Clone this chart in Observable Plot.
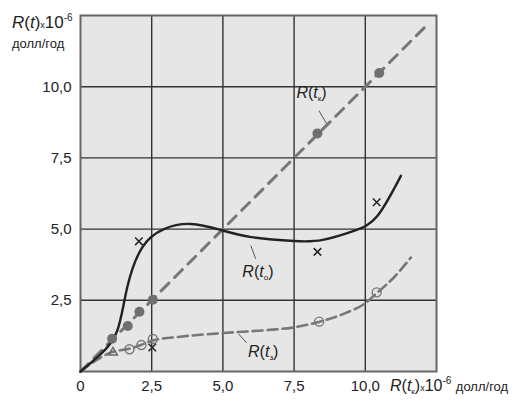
<!DOCTYPE html>
<html><head><meta charset="utf-8">
<script src="https://cdn.jsdelivr.net/npm/d3@7"></script>
<script src="https://cdn.jsdelivr.net/npm/@observablehq/plot@0.6"></script>
<style>
body{margin:0;background:#fff;font-family:"Liberation Sans",Arial,sans-serif;}
#wrap{position:relative;width:522px;height:401px;}
.lab{position:absolute;color:#222;white-space:nowrap;line-height:1;}
.lab i{font-style:italic;}
.lab sub{font-size:8px;vertical-align:-3px;}
.lab sup{font-size:10px;vertical-align:7px;}
.lab .sx{font-size:9px;}
</style></head><body>
<div id="wrap"></div>
<script>
// diagonal R(tk)
const diagX = [0, 12.25];
const diagY = [0, 12.25];
const kX = [1.11, 1.66, 2.07, 2.54, 8.32, 10.49];
const kY = [1.15, 1.6, 2.1, 2.52, 8.36, 10.48];
// solid curve R(to)
const oX = [0, 0.7, 1.29, 1.64, 2.17, 2.93, 3.87, 4.92, 6.0, 7.5, 8.5, 9.6, 10.43, 11.25];
const oY = [0, 0.6, 1.43, 2.95, 4.36, 5.0, 5.18, 4.97, 4.72, 4.58, 4.62, 4.94, 5.47, 6.87];
// crosses
const crossX = [2.05, 8.32, 10.4, 2.52];
const crossY = [4.57, 4.20, 5.94, 0.84];
// triangle
const triX = [1.14];
const triY = [0.67];
// dashed curve R(ts)
const sX = [0, 0.5, 1.1, 1.7, 2.1, 2.5, 3.5, 5.0, 6.5, 7.5, 8.4, 9.3, 10.0, 10.4, 11.0, 11.6];
const sY = [0, 0.36, 0.68, 0.8, 0.92, 1.08, 1.22, 1.35, 1.45, 1.55, 1.75, 2.05, 2.4, 2.75, 3.3, 4.0];
const sOpenX = [1.72, 2.14, 2.54, 8.38, 10.4];
const sOpenY = [0.78, 0.93, 1.14, 1.75, 2.78];
// ticks
const ticksX = [0, 2.5, 5, 7.5, 10];
const ticksY = [2.5, 5, 7.5, 10];
const gridVals = [2.5, 5, 7.5, 10];
// leader lines [x1,y1,x2,y2]
const leaders = [[8.37, 9.16, 8.68, 8.64], [5.98, 4.42, 6.15, 3.96], [5.55, 1.32, 5.83, 1.01]];

const zip = (xs, ys) => xs.map((x, i) => ({x, y: ys[i]}));
const fmt = d => d === 0 ? "0" : d.toFixed(1).replace(".", ",");

const chart = Plot.plot({
  width: 522, height: 401,
  marginLeft: 80, marginRight: 86, marginTop: 15, marginBottom: 30,
  x: {domain: [0, 12.5]},
  y: {domain: [0, 12.5]},
  style: {fontFamily: "Liberation Sans, Arial, sans-serif", fontSize: "15px", color: "#222", background: "transparent"},
  marks: [
    Plot.frame({fill: "#e6e6e6", stroke: null}),
    Plot.ruleX(gridVals, {stroke: "#333", strokeWidth: 1.4}),
    Plot.ruleY(gridVals, {stroke: "#333", strokeWidth: 1.4}),
    Plot.frame({stroke: "#666", strokeWidth: 2}),
    Plot.axisX(ticksX, {tickSize: 0, tickPadding: 9, tickFormat: fmt, label: null, fontSize: 15}),
    Plot.axisY(ticksY, {tickSize: 0, tickPadding: 9, tickFormat: fmt, label: null, fontSize: 15}),
    Plot.link(leaders, {x1: d => d[0], y1: d => d[1], x2: d => d[2], y2: d => d[3], stroke: "#555", strokeWidth: 1}),
    Plot.line(zip(sX, sY), {x: "x", y: "y", curve: "monotone-x", stroke: "#777", strokeWidth: 2.6, strokeDasharray: "10,5"}),
    Plot.line(zip(diagX, diagY), {x: "x", y: "y", stroke: "#777", strokeWidth: 3, strokeDasharray: "11,8"}),
    Plot.line(zip(oX, oY), {x: "x", y: "y", curve: "natural", stroke: "#222", strokeWidth: 2.4}),
    Plot.dot(zip(kX, kY), {x: "x", y: "y", r: 5, fill: "#6f6f6f", stroke: null}),
    Plot.dot(zip(sOpenX, sOpenY), {x: "x", y: "y", r: 4.5, fill: "none", stroke: "#777", strokeWidth: 1.4}),
    Plot.dot(zip(crossX, crossY), {x: "x", y: "y", symbol: "times", r: 3.5, stroke: "#222", strokeWidth: 1.5}),
    Plot.dot(zip(triX, triY), {x: "x", y: "y", symbol: "triangle", r: 3.3, fill: "none", stroke: "#666", strokeWidth: 1.4})
  ]
});
const wrap = document.getElementById("wrap");
wrap.appendChild(chart);
const sx = chart.scale("x"), sy = chart.scale("y");
function lab(html, left, top, size) {
  const d = document.createElement("div");
  d.className = "lab"; d.innerHTML = html;
  d.style.left = left + "px"; d.style.top = top + "px"; d.style.fontSize = size + "px";
  wrap.appendChild(d);
}
lab('<i>R</i>(<i>t</i>)<span class="sx">x</span>10<sup>-6</sup>', 12, 13, 17);
lab('долл/год', 12, 37, 13);
lab('<i>R</i>(<i>t</i><sub>к</sub>)<span class="sx">x</span>10<sup>-6</sup> <span style="font-size:13px">долл/год</span>', 390, 376, 16);
lab('<i>R</i>(<i>t</i><sub>к</sub>)', sx.apply(7.6), sy.apply(10.05), 16);
lab('<i>R</i>(<i>t</i><sub>о</sub>)', sx.apply(5.7), sy.apply(3.75), 16);
lab('<i>R</i>(<i>t</i><sub>з</sub>)', sx.apply(5.9), sy.apply(0.95), 16);
</script>
</body></html>
